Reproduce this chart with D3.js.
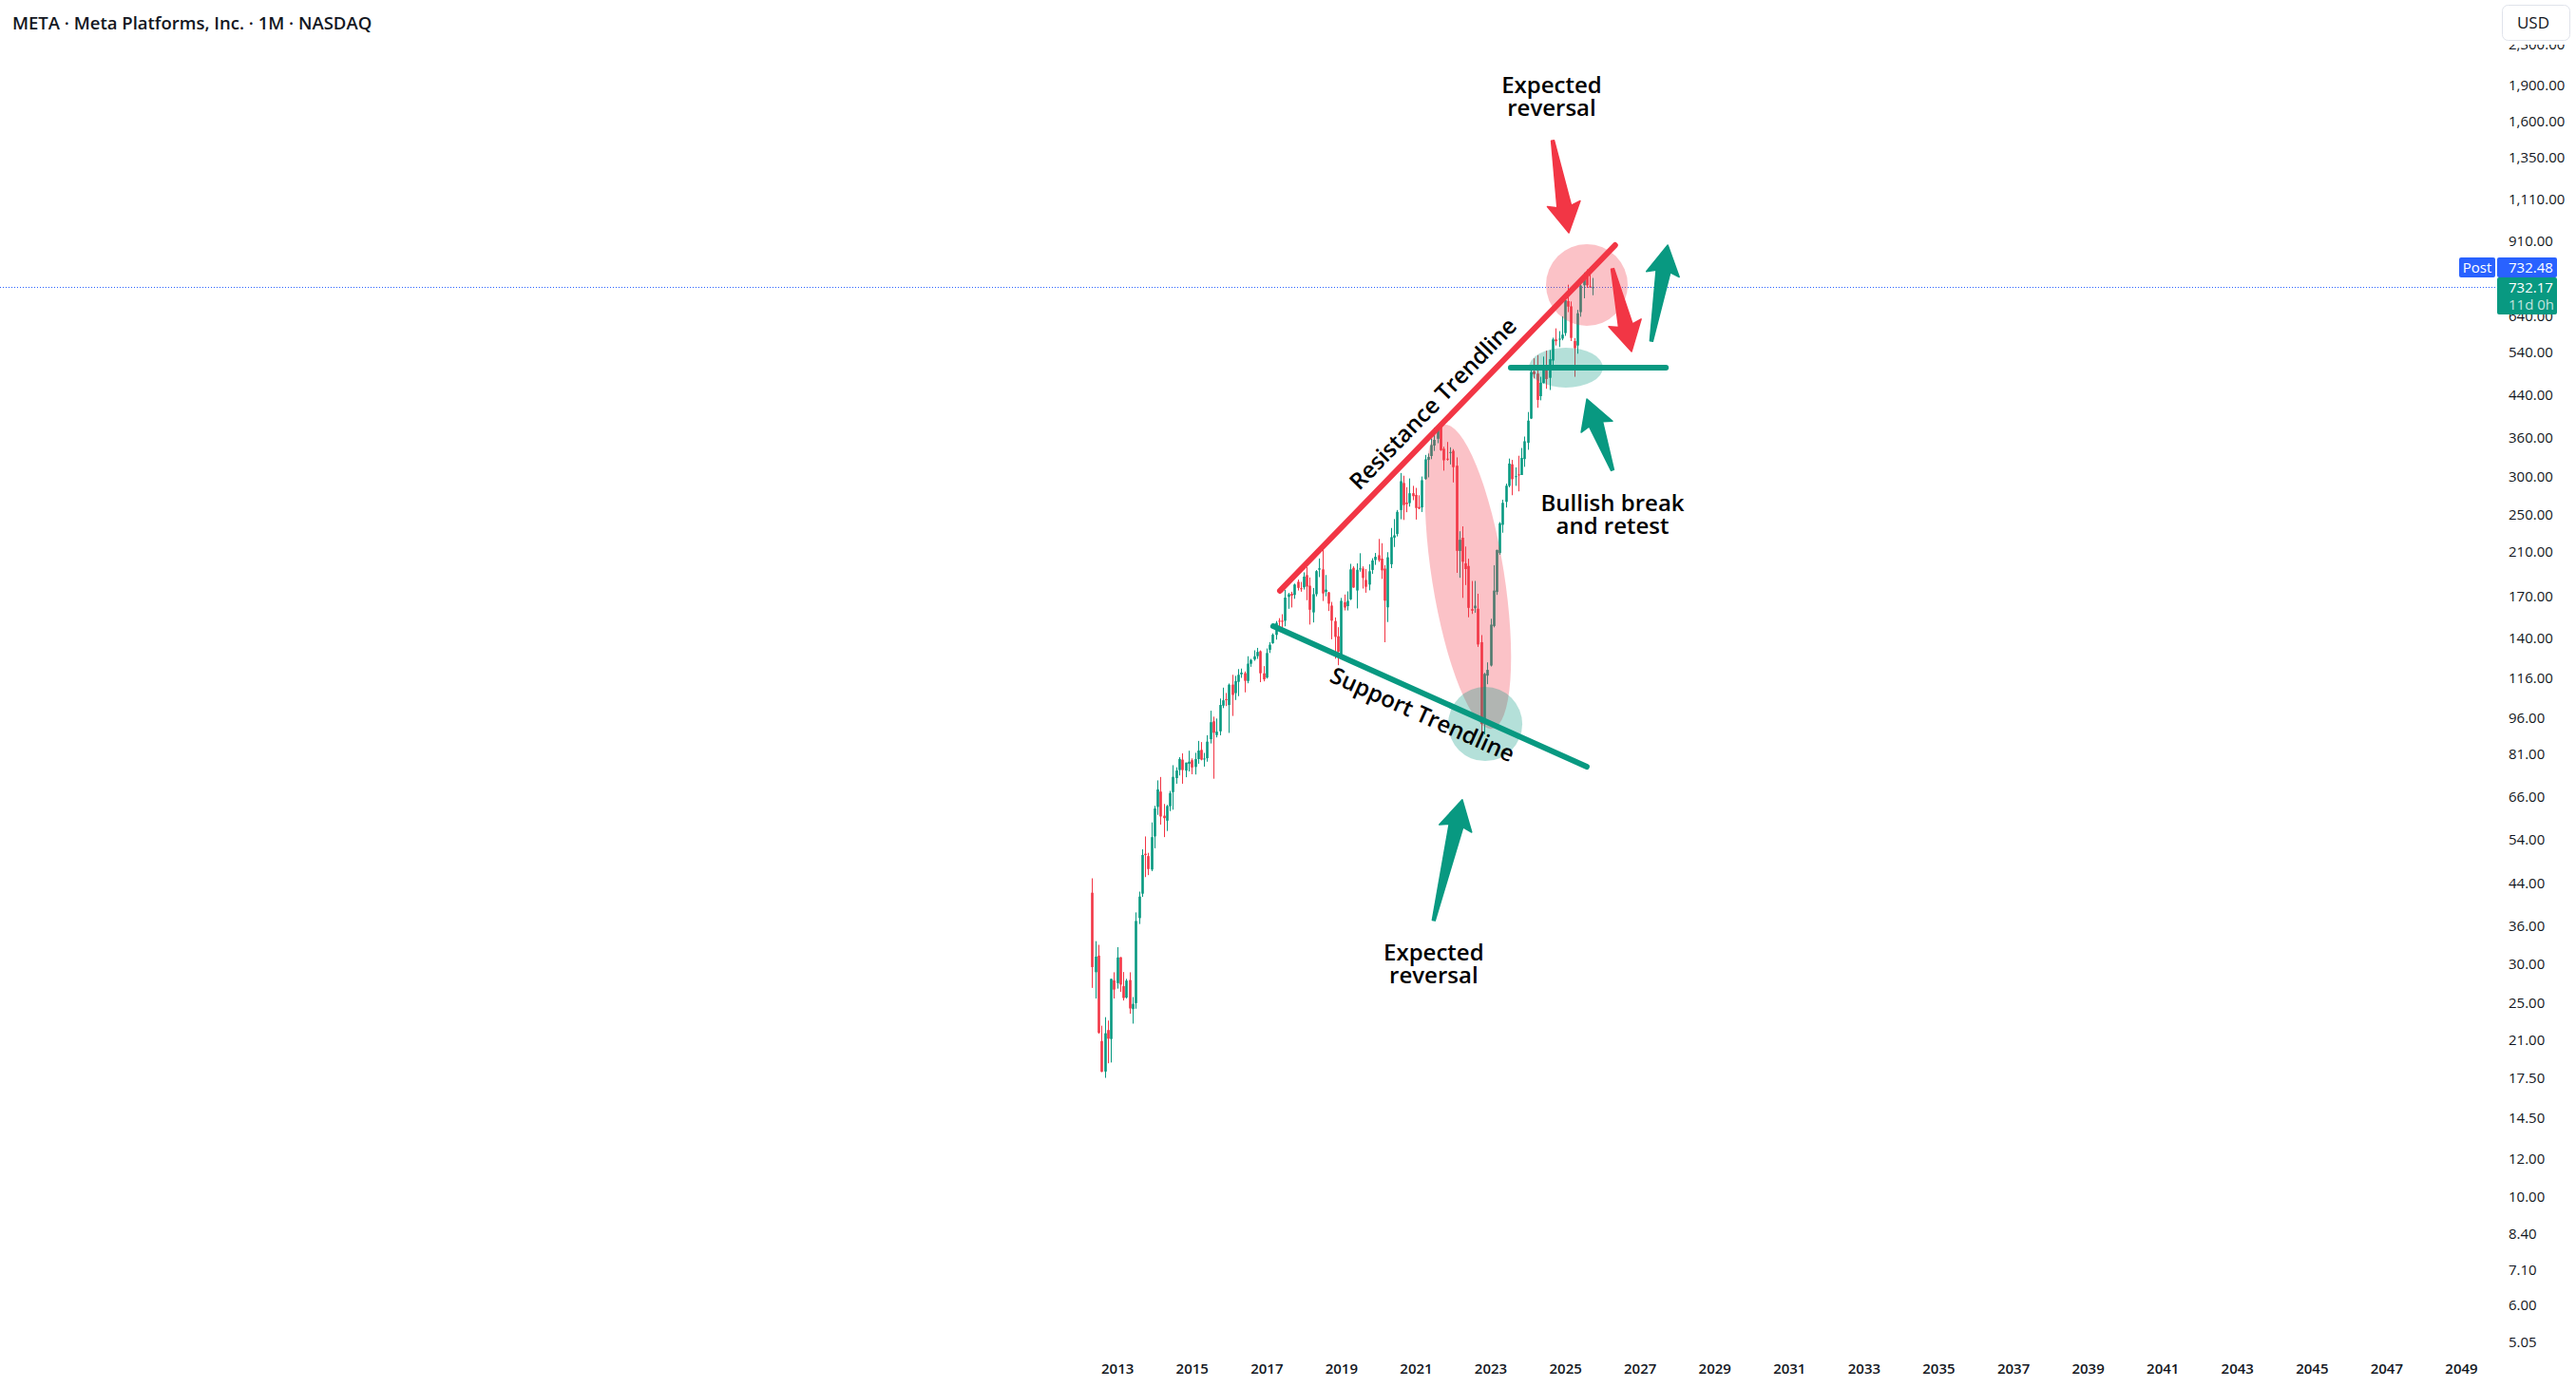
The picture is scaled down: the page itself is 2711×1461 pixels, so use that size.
<!DOCTYPE html>
<html><head><meta charset="utf-8">
<script src="https://cdn.jsdelivr.net/npm/d3@7"></script>
<style>
html,body{margin:0;padding:0;background:#fff;}
svg{display:block;}
</style></head><body>
<svg id="chart" width="2711" height="1461"></svg>
<script>
// ---------------- DATA (monthly META candles, May 2012 .. Oct 2025) ----------------
const firstMonth = "2012-05";
const opens = [
 42.05,28.89,31.25,20.88,18.08,21.99,21.08,27.80,
 27.44,31.01,27.05,25.63,27.85,24.27,24.97,37.30,41.85,50.53,49.97,46.90,
 54.83,63.03,67.76,60.46,59.06,63.23,67.58,72.22,75.01,78.78,74.80,77.26,
 78.58,76.11,79.00,82.50,79.00,79.30,86.77,94.42,88.45,90.05,101.65,104.83,
 101.95,112.27,107.83,113.75,117.83,118.50,114.20,123.85,126.38,128.38,131.41,118.38,
 116.03,132.25,136.47,141.93,151.74,151.75,151.72,169.82,172.40,171.39,182.36,176.85,
 177.68,188.22,179.01,157.81,172.00,193.07,193.37,173.93,173.50,163.03,151.52,141.00,
 128.99,165.60,162.60,167.83,194.78,175.00,194.03,194.18,184.00,179.95,192.85,202.13,
 206.75,203.44,194.03,161.62,198.12,224.59,228.50,255.82,290.70,264.97,264.40,277.00,
 274.78,259.52,259.00,296.14,324.12,330.15,346.82,358.10,382.05,341.61,326.04,335.13,
 338.30,315.35,210.93,224.47,199.01,196.51,160.31,161.03,160.59,137.14,94.33,117.10,
 122.82,148.03,173.78,208.84,238.62,265.90,286.70,317.54,299.37,302.74,301.85,325.48,
 351.32,393.94,492.11,487.20,437.92,465.84,505.00,477.49,517.98,572.46,573.00,574.48,
 589.72,686.00,669.00,568.00,556.00,651.00,739.00,774.00,735.00,730.00
];
const highs = [
 45.00,33.45,32.88,22.45,23.37,23.00,28.00,28.88,
 32.51,31.02,28.92,28.00,28.88,25.70,38.31,42.26,51.60,54.83,50.75,58.58,
 63.37,71.44,72.59,63.91,63.64,68.00,76.74,75.99,79.70,81.16,77.68,82.17,
 79.25,81.37,86.07,85.59,81.33,88.40,99.24,96.49,95.65,105.12,110.65,107.92,
 112.84,117.59,116.99,120.79,121.08,119.44,128.33,126.73,131.98,133.50,131.94,122.50,
 133.14,137.18,142.95,151.53,153.60,156.50,175.49,173.05,174.00,180.80,184.25,182.28,
 190.66,195.32,186.10,177.10,192.72,203.55,218.62,188.30,173.89,165.88,154.13,147.19,
 169.00,171.70,174.30,198.48,196.18,198.88,208.66,196.16,193.66,198.09,203.80,208.93,
 223.20,218.77,197.24,209.69,235.07,245.19,255.85,304.67,300.80,285.00,297.00,286.79,
 284.00,274.30,299.70,331.81,334.00,358.79,377.55,379.70,384.33,345.00,352.71,344.00,
 341.08,328.00,231.47,236.86,215.36,203.32,183.06,183.10,172.37,141.80,118.70,124.67,
 153.19,197.16,212.17,241.69,268.65,289.79,326.20,324.14,312.87,330.54,342.92,361.90,
 406.36,494.36,523.57,531.49,479.85,527.72,542.81,544.23,577.00,602.95,595.21,638.40,
 711.33,740.91,684.50,576.00,658.00,747.90,784.75,796.25,796.00,765.00
];
const lows = [
 26.83,25.52,21.61,18.03,17.55,18.80,18.87,25.52,
 26.74,26.34,25.28,25.52,23.75,22.67,24.32,36.27,41.22,45.26,45.69,46.55,
 51.85,60.70,57.98,54.66,56.26,61.79,62.21,70.32,73.11,70.32,72.51,74.52,
 73.54,73.45,77.26,78.52,76.23,78.02,85.03,72.00,87.50,88.36,100.47,101.46,
 89.37,96.82,104.40,106.31,115.88,108.23,112.97,122.07,125.60,126.75,113.55,114.00,
 115.51,130.30,136.08,138.81,144.42,144.56,147.80,160.52,161.56,168.29,175.01,174.00,
 175.80,167.18,149.02,150.51,170.23,186.43,166.56,170.27,158.87,139.03,126.85,123.02,
 127.88,159.31,159.28,167.28,177.17,160.84,191.25,176.66,173.18,175.16,189.29,197.51,
 200.29,184.82,137.10,150.83,194.48,214.91,225.90,245.00,244.13,253.23,260.00,268.00,
 244.61,256.81,253.50,295.00,298.50,325.25,338.18,350.72,338.14,308.11,322.89,317.25,
 291.43,190.22,185.82,169.00,179.56,154.25,156.69,157.58,134.12,88.09,88.76,112.46,
 122.28,147.06,171.43,207.13,229.85,258.88,284.85,274.38,286.79,279.40,301.85,313.66,
 340.01,393.05,476.00,414.50,429.42,465.04,453.41,450.80,494.48,556.20,552.15,570.00,
 582.00,651.00,568.00,479.80,535.00,637.00,695.00,730.00,731.00,705.00
];
const closes = [
 29.60,31.10,21.71,18.06,21.66,21.11,28.00,26.62,
 30.98,27.25,25.58,27.77,24.35,24.88,36.80,41.29,50.23,50.21,47.01,54.65,
 62.57,68.46,60.24,59.78,63.30,67.29,72.65,74.82,79.04,74.99,77.70,78.02,
 75.91,78.97,82.22,78.77,79.19,85.77,94.01,89.43,89.90,101.97,104.24,104.66,
 112.21,106.92,114.10,117.58,118.81,114.28,123.94,126.12,128.27,130.99,118.42,115.05,
 130.32,135.54,142.05,150.25,151.46,150.98,169.25,171.97,170.87,180.06,177.18,176.46,
 186.89,178.32,159.79,172.00,191.78,194.32,172.58,175.73,164.46,151.79,140.61,131.09,
 166.69,161.45,166.69,193.40,177.47,193.00,194.23,185.67,178.08,191.65,201.64,205.25,
 201.91,192.47,166.80,204.71,225.09,227.07,253.67,293.20,261.90,263.11,276.97,273.16,
 258.33,257.62,294.53,325.08,328.73,347.71,356.30,379.38,339.39,323.57,324.46,336.35,
 313.26,211.03,222.36,200.47,193.64,161.25,159.10,162.93,135.68,93.16,118.10,120.34,
 148.97,174.94,211.94,240.32,264.72,286.98,318.60,295.89,300.21,301.27,327.15,353.96,
 390.14,490.13,485.58,430.17,466.83,504.22,474.83,521.31,572.44,567.58,574.32,585.51,
 689.18,668.20,576.36,549.00,647.49,738.09,773.44,738.70,734.38,732.17
];
const priceTicks = [2300,1900,1600,1350,1110,910,640,540,440,360,300,250,210,170,140,116,96,81,66,54,44,36,30,25,21,17.5,14.5,12,10,8.4,7.1,6,5.05];
const yearTicks = [2013,2015,2017,2019,2021,2023,2025,2027,2029,2031,2033,2035,2037,2039,2041,2043,2045,2047,2049];
const lastPrice = 732.17;
const postPrice = 732.48;
const countdown = "11d 0h";
const title = "META · Meta Platforms, Inc. · 1M · NASDAQ";

// Drawings (anchors in [fractional year, price])
const trendLines = [
  {name:"resistance", from:[2017.36,174.7], to:[2026.34,893], color:"#f23645"},
  {name:"support",    from:[2017.18,147.9], to:[2025.58,76.2], color:"#089981"},
  {name:"retest",     from:[2023.545,501],  to:[2027.70,501],  color:"#089981"}
];
const zones = [
  {at:[2025.583,740], rx:43, ry:43, rot:0,  color:"#f23645"},
  {at:[2025.02,501],  rx:39, ry:21, rot:0,  color:"#089981"},
  {at:[2022.40,186.8],rx:38, ry:162,rot:-9, color:"#f23645"},
  {at:[2022.86,93.2], rx:39, ry:39, rot:0,  color:"#089981"}
];
const arrows = [
  {tail:[2024.667,1463], tip:[2025.10,946.5], color:"#f23645"},
  {tail:[2026.27,798.6], tip:[2026.78,540.6], color:"#f23645"},
  {tail:[2027.31,568],   tip:[2027.75,893],   color:"#089981"},
  {tail:[2026.27,308.8], tip:[2025.583,432],  color:"#089981"},
  {tail:[2021.48,36.9],  tip:[2022.245,65.2], color:"#089981"}
];
const labels = [
  {lines:["Expected","reversal"], at:[2024.64,1897]},
  {lines:["Resistance Trendline"], at:[2021.46,422.6], along:"resistance"},
  {lines:["Support Trendline"], at:[2021.18,97.5], along:"support"},
  {lines:["Bullish break","and retest"], at:[2026.27,263.8]},
  {lines:["Expected","reversal"], at:[2021.48,31.65]}
];

// ---------------- SCALES ----------------
const W = 2711, H = 1461;
const UP = "#089981", DOWN = "#f23645", TXT = "#131722";
const FONT = "'Open Sans', 'Noto Sans', sans-serif";
const svg = d3.select("#chart");
svg.append("rect").attr("width",W).attr("height",H).attr("fill","#fff");

const x = d3.scaleUtc()
  .domain([new Date(Date.UTC(2013,0,1)), new Date(Date.UTC(2049,0,1))])
  .range([1175.7, 2590]);
const y = d3.scaleLog().domain([10, 1000]).range([1260, 1260 - 513.6*2]);

const yearToDate = yf => new Date(Date.UTC(2013,0,1) + (yf-2013)*365.2425*86400000);
const P = a => [x(yearToDate(a[0])), y(a[1])];

// ---------------- CANDLES ----------------
const [fy, fm] = firstMonth.split("-").map(Number);
const start = new Date(Date.UTC(fy, fm-1, 1));
const bars = opens.map((o,i)=>({d:d3.utcMonth.offset(start,i), o, h:highs[i], l:lows[i], c:closes[i]}));
const bw = 2.6;
const cg = svg.append("g");
cg.selectAll("line.w").data(bars).join("line")
  .attr("x1", b=>Math.round(x(b.d))+0.5).attr("x2", b=>Math.round(x(b.d))+0.5)
  .attr("y1", b=>y(b.h)).attr("y2", b=>y(b.l))
  .attr("stroke", b=> b.c>=b.o?UP:DOWN).attr("stroke-width",1);
cg.selectAll("rect.b").data(bars).join("rect")
  .attr("x", b=>Math.round(x(b.d))+0.5-bw/2).attr("width", bw)
  .attr("y", b=>Math.min(y(b.o),y(b.c)))
  .attr("height", b=>Math.max(1, Math.abs(y(b.o)-y(b.c))))
  .attr("fill", b=> b.c>=b.o?UP:DOWN);

// ---------------- POST price line ----------------
svg.append("line").attr("x1",0).attr("x2",2628)
  .attr("y1",Math.round(y(postPrice))+0.5).attr("y2",Math.round(y(postPrice))+0.5)
  .attr("stroke","#2962ff").attr("stroke-width",1).attr("stroke-dasharray","1,2");

// ---------------- DRAWINGS ----------------
const dg = svg.append("g");
zones.forEach(z=>{
  const [cx,cy] = P(z.at);
  dg.append("ellipse").attr("cx",0).attr("cy",0).attr("rx",z.rx).attr("ry",z.ry)
    .attr("transform",`translate(${cx},${cy}) rotate(${z.rot})`)
    .attr("fill",z.color).attr("fill-opacity",0.3);
});
const lineMap = {};
trendLines.forEach(l=>{
  const a = P(l.from), b = P(l.to);
  lineMap[l.name] = [a,b];
  dg.append("line").attr("x1",a[0]).attr("y1",a[1]).attr("x2",b[0]).attr("y2",b[1])
    .attr("stroke",l.color).attr("stroke-width",6).attr("stroke-linecap","round");
});
function arrowPoly(t, p){
  const dx=p[0]-t[0], dy=p[1]-t[1], L=Math.hypot(dx,dy);
  const ux=dx/L, uy=dy/L, nx=-uy, ny=ux;
  const hl=28, hw=17.5, sw=7.5, tw=1.5;
  const bx=p[0]-ux*hl, by=p[1]-uy*hl;
  const bx2=p[0]-ux*(hl+3), by2=p[1]-uy*(hl+3);
  const pts=[
    [t[0]+nx*tw,t[1]+ny*tw],
    [bx+nx*sw,by+ny*sw],
    [bx2+nx*hw,by2+ny*hw],
    [p[0],p[1]],
    [bx2-nx*hw,by2-ny*hw],
    [bx-nx*sw,by-ny*sw],
    [t[0]-nx*tw,t[1]-ny*tw]
  ];
  return pts.map(q=>q.join(",")).join(" ");
}
arrows.forEach(a=>{
  dg.append("polygon").attr("points",arrowPoly(P(a.tail),P(a.tip)))
    .attr("fill",a.color).attr("stroke",a.color).attr("stroke-width",1.5).attr("stroke-linejoin","round");
});
labels.forEach(l=>{
  const [cx,cy] = P(l.at);
  let rot = 0;
  if(l.along){ const [a,b]=lineMap[l.along]; rot = Math.atan2(b[1]-a[1], b[0]-a[0])*180/Math.PI; }
  const t = dg.append("text").attr("transform",`translate(${cx},${cy}) rotate(${rot})`)
    .attr("text-anchor","middle").attr("font-family",FONT).attr("font-weight",600)
    .attr("font-size",24).attr("fill","#000");
  l.lines.forEach((s,i)=>t.append("tspan").attr("x",0).attr("y",i*23.5).attr("dy","0.35em").text(s));
});

// ---------------- AXES ----------------
svg.append("defs").append("clipPath").attr("id","yclip")
  .append("rect").attr("x",2590).attr("y",47).attr("width",121).attr("height",1400);
const yAxis = d3.axisRight(y).tickValues(priceTicks).tickFormat(d3.format(",.2f")).tickSize(0).tickPadding(0);
const yg = svg.append("g").attr("clip-path","url(#yclip)").append("g").attr("transform","translate(2640,0)").call(yAxis);
yg.select(".domain").remove();
yg.attr("font-family",FONT).attr("font-size",15);
yg.selectAll("text").attr("fill",TXT);

const xAxis = d3.axisBottom(x).tickValues(yearTicks.map(v=>new Date(Date.UTC(v,0,1))))
  .tickFormat(d3.utcFormat("%Y")).tickSize(0).tickPadding(0);
const xg = svg.append("g").attr("transform","translate(0,1435)").call(xAxis);
xg.select(".domain").remove();
xg.attr("font-family",FONT).attr("font-size",15).attr("font-weight",600);
xg.selectAll("text").attr("fill",TXT);

// ---------------- PRICE LABELS ----------------
const gTop = Math.round(y(lastPrice)) - 10;
const lg = svg.append("g").attr("font-family",FONT);
lg.append("rect").attr("x",2628).attr("y",gTop).attr("width",63).attr("height",39).attr("rx",2).attr("fill",UP);
lg.append("text").attr("x",2640).attr("y",gTop+11).attr("dy","0.35em").attr("font-size",15).attr("fill","#fff").text(d3.format(".2f")(lastPrice));
lg.append("text").attr("x",2640).attr("y",gTop+29).attr("dy","0.35em").attr("font-size",15).attr("fill","#fff").attr("fill-opacity",0.75).text(countdown);
lg.append("rect").attr("x",2628).attr("y",gTop-21).attr("width",63).attr("height",21).attr("rx",2).attr("fill","#2962ff");
lg.append("text").attr("x",2640).attr("y",gTop-10.5).attr("dy","0.35em").attr("font-size",15).attr("fill","#fff").text(d3.format(".2f")(postPrice));
lg.append("rect").attr("x",2588).attr("y",gTop-21).attr("width",38).attr("height",21).attr("rx",2).attr("fill","#2962ff");
lg.append("text").attr("x",2607).attr("y",gTop-10.5).attr("dy","0.35em").attr("text-anchor","middle").attr("font-size",15).attr("fill","#fff").text("Post");

// USD button
svg.append("rect").attr("x",2633.5).attr("y",5.5).attr("width",71).attr("height",37).attr("rx",6)
  .attr("fill","#fff").attr("stroke","#e0e3eb");
svg.append("text").attr("x",2666).attr("y",24).attr("dy","0.35em").attr("text-anchor","middle")
  .attr("font-family",FONT).attr("font-size",17).attr("font-weight",500).attr("fill",TXT).text("USD");

// Title
svg.append("text").attr("x",13).attr("y",31).attr("font-family",FONT).attr("font-size",18.5)
  .attr("font-weight",600).attr("fill",TXT).text(title);
</script>
</body></html>
